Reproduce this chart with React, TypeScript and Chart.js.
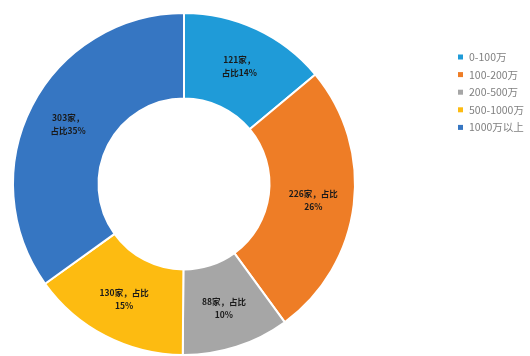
import React, { useEffect, useRef } from "react";
import { Chart, registerables } from "chart.js";

Chart.register(...registerables);

const categories = ["0-100万", "100-200万", "200-500万", "500-1000万", "1000万以上"];
const counts = [121, 226, 88, 130, 303];
const percents = [14, 26, 10, 15, 35];
// whether "占比" stays on the first label line
const ratioOnFirstLine = [false, true, true, true, false];
const colors = ["#1F9BD8", "#EE7D26", "#A6A6A6", "#FDBB11", "#3676C2"];

const labelPlugin = {
  id: "sliceLabels",
  afterDatasetsDraw(chart: any) {
    const ctx = chart.ctx;
    const meta = chart.getDatasetMeta(0);
    ctx.save();
    ctx.font = "bold 8.5px 'Noto Sans CJK SC', sans-serif";
    ctx.fillStyle = "#1a1a1a";
    ctx.textAlign = "center";
    ctx.textBaseline = "middle";
    meta.data.forEach((arc: any, i: number) => {
      const { startAngle, endAngle, innerRadius, outerRadius, x, y } = arc.getProps(
        ["startAngle", "endAngle", "innerRadius", "outerRadius", "x", "y"],
        true
      );
      const a = (startAngle + endAngle) / 2;
      const r = (innerRadius + outerRadius) / 2 + 2;
      const px = x + Math.cos(a) * r;
      const py = y + Math.sin(a) * r;
      const lines = ratioOnFirstLine[i]
        ? [`${counts[i]}家，占比`, `${percents[i]}%`]
        : [`${counts[i]}家，`, `占比${percents[i]}%`];
      lines.forEach((t, j) => ctx.fillText(t, px, py + (j - 0.5) * 13));
    });
    ctx.restore();
  },
};

const legendPlugin = {
  id: "sideLegend",
  afterDraw(chart: any) {
    const ctx = chart.ctx;
    ctx.save();
    ctx.font = "10.5px 'Noto Sans CJK SC', sans-serif";
    ctx.textBaseline = "middle";
    ctx.textAlign = "left";
    categories.forEach((c, i) => {
      const y = 57 + i * 17.6;
      ctx.fillStyle = colors[i];
      ctx.fillRect(458, y - 2.5, 5, 5);
      ctx.fillStyle = "#808080";
      ctx.fillText(c, 469, y);
    });
    ctx.restore();
  },
};

export default function App() {
  const ref = useRef<HTMLCanvasElement>(null);
  useEffect(() => {
    if (!ref.current) return;
    const chart = new Chart(ref.current, {
      type: "doughnut",
      data: {
        labels: categories,
        datasets: [
          {
            data: counts,
            backgroundColor: colors,
            borderColor: "#ffffff",
            borderWidth: 2,
          },
        ],
      },
      options: {
        responsive: false,
        animation: false,
        cutout: "50%",
        layout: { padding: { left: 12, top: 12, right: 174, bottom: 0 } },
        plugins: {
          legend: { display: false },
          tooltip: { enabled: false },
        },
      },
      plugins: [labelPlugin, legendPlugin],
    });
    return () => chart.destroy();
  }, []);
  return (
    <div style={{ position: "fixed", left: 0, top: 0, width: 530, height: 356, background: "#fff" }}>
      <canvas ref={ref} width={530} height={356} />
    </div>
  );
}
